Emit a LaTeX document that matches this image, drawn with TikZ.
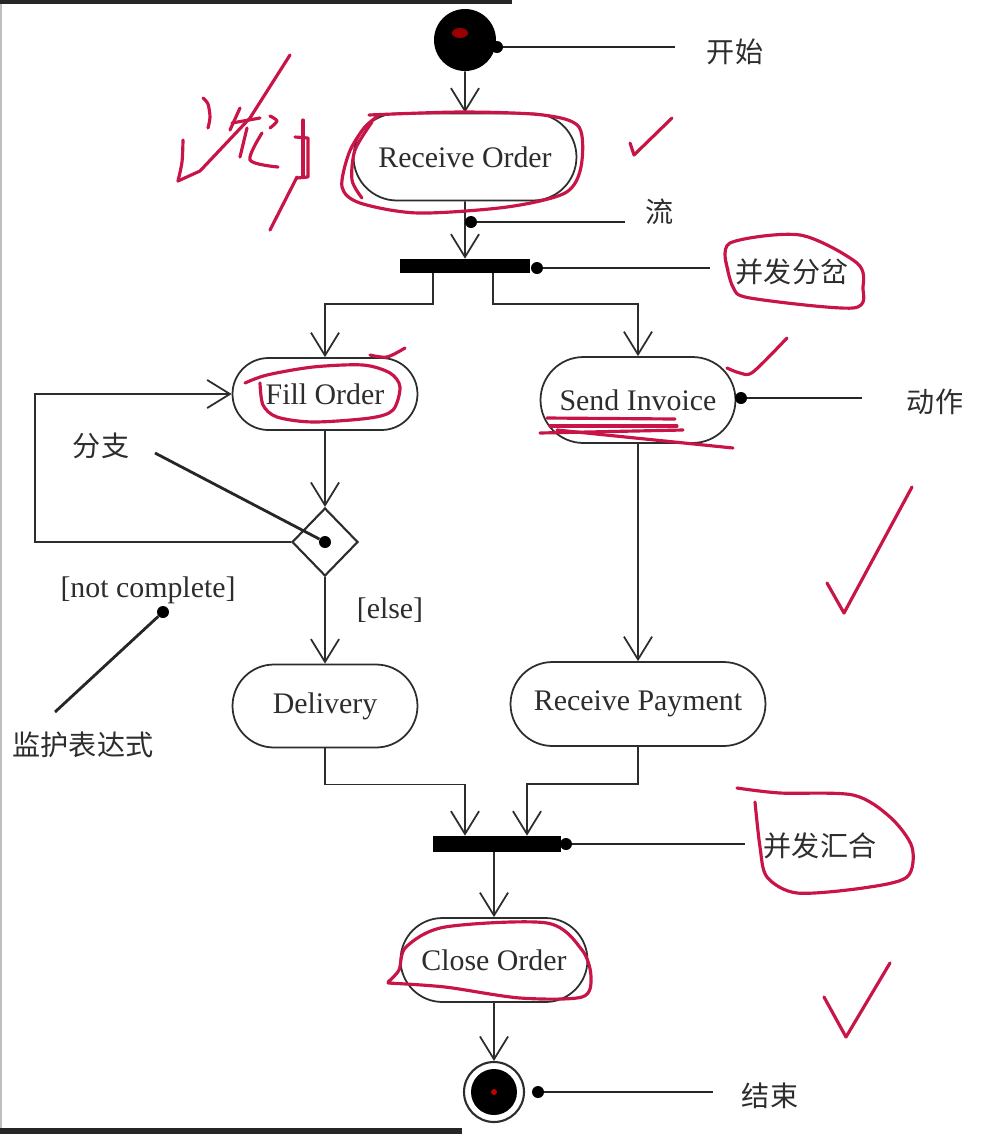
\documentclass[tikz,border=0pt]{standalone}
\usepackage{fontspec}
\setmainfont{Liberation Serif}
\newfontfamily\cjk{Noto Sans CJK SC}
\usetikzlibrary{arrows.meta,shapes.misc,shapes.geometric,calc}
\definecolor{ink}{RGB}{45,45,45}
\definecolor{penred}{RGB}{200,20,70}
\begin{document}
\begin{tikzpicture}[x=0.02cm,y=-0.02cm,
  act/.style={rounded rectangle, draw=ink, line width=1pt, fill=white, text=ink,
    font=\fontsize{17}{20}\selectfont, inner sep=0pt},
  flow/.style={draw=ink, line width=1pt, -{Straight Barb[length=13pt,width=16pt]}},
  annot/.style={draw=black!85, line width=1.6pt},
  notedot/.style={circle, fill=black, inner sep=0pt, minimum size=0.24cm},
  cnlbl/.style={font=\cjk\fontsize{16}{18}\selectfont, text=ink, inner sep=1pt},
  guard/.style={font=\fontsize{17}{20}\selectfont, text=ink, inner sep=1pt},
  barnode/.style={fill=black, draw=none, inner sep=0pt},
  redmark/.style={draw=penred, line width=1.8pt, line cap=round, line join=round}]
\useasboundingbox (0,0) rectangle (990,1134);
\fill[white] (0,0) rectangle (990,1134);
\fill[black!85] (0,0) rectangle (512,4);
\fill[black!85] (0,1128) rectangle (462,1134);
\draw[black!25, line width=0.8pt] (1,4) -- (1,1128);

% ---------- nodes ----------
\node[circle, fill=black, minimum size=1.24cm, inner sep=0pt] (start) at (465,40) {};
\fill[red!60!black] (460,33) ellipse (0.16cm and 0.1cm);
\node[act, minimum width=4.46cm, minimum height=1.74cm] (recv) at (465,157) {Receive Order};
\node[barnode, minimum width=2.6cm, minimum height=0.28cm] (fork) at (465,266) {};
\node[act, minimum width=3.7cm, minimum height=1.44cm] (fill) at (325,394) {Fill Order};
\node[act, minimum width=3.9cm, minimum height=1.72cm] (send) at (638,400) {Send Invoice};
\node[diamond, draw=ink, line width=1.2pt, fill=white, minimum width=1.32cm, minimum height=1.36cm, inner sep=0pt] (dia) at (325,542) {};
\node[act, minimum width=3.7cm, minimum height=1.66cm] (deliv) at (325,706) {Delivery};
\node[act, minimum width=5.1cm, minimum height=1.68cm] (pay) at (638,704) {Receive Payment};
\node[barnode, minimum width=2.58cm, minimum height=0.32cm] (join) at (497,844) {};
\node[act, minimum width=3.74cm, minimum height=1.68cm] (close) at (494,960) {Close Order};
\node[circle, draw=ink, line width=1.2pt, fill=white, minimum size=1.2cm, inner sep=0pt] (end) at (494,1092) {};
\fill[black] (end.center) circle (0.46cm);
\fill[red!75!black] (end.center) circle (0.06cm);

% ---------- flows ----------
\draw[flow] (start) -- (recv);
\draw[flow] (recv) -- (fork);
\draw[flow] ($(fork.south)+(-32,0)$) -- ++(0,31) -| (fill.north);
\draw[flow] ($(fork.south)+(28,0)$) -- ++(0,31) -| (send.north);
\draw[flow] (fill) -- (dia);
\coordinate (loopc) at (35,542);
\draw[flow] (dia.west) -- (loopc) |- (fill.west);
\draw[flow] (dia) -- (deliv);
\draw[flow] (send) -- (pay);
\draw[flow] (deliv.south) -- ++(0,36) -| ($(join.north)+(-32,0)$);
\draw[flow] (pay.south) -- ++(0,37) -| ($(join.north)+(30,0)$);
\draw[flow] (join.south -| close.north) -- (close.north);
\draw[flow] (close) -- (end);

% ---------- guards ----------
\node[guard] (gelse) at (390,610) {[else]};
\node[guard] (gnot) at (148,590) {[not complete]};

% ---------- annotations ----------
\node[notedot] (d1) at (497,47) {};
\coordinate (e1) at (675,47);
\node[cnlbl] (t1) at (735,52) {开始};
\draw[annot] (d1) -- (e1);

\node[notedot] (d2) at (471,222) {};
\coordinate (e2) at (625,222);
\node[cnlbl] (t2) at (660,212) {流};
\draw[annot] (d2) -- (e2);

\node[notedot] (d3) at (537,268) {};
\coordinate (e3) at (710,268);
\node[cnlbl] (t3) at (792,272) {并发分岔};
\draw[annot] (d3) -- (e3);

\node[notedot] (d4) at (741,398) {};
\coordinate (e4) at (862,398);
\node[cnlbl] (t4) at (935,402) {动作};
\draw[annot] (d4) -- (e4);

\node[notedot] (d5) at (325,542) {};
\node[cnlbl] (t5) at (101,446) {分支};
\coordinate (e5) at (155,453);
\draw[annot] (e5) -- (d5);

\node[notedot] (d6) at (163,612) {};
\coordinate (e6) at (55,712);
\node[cnlbl] (t6) at (83,745) {监护表达式};
\draw[annot] (d6) -- (e6);

\node[notedot] (d7) at (566,844) {};
\coordinate (e7) at (745,844);
\node[cnlbl] (t7) at (820,846) {并发汇合};
\draw[annot] (d7) -- (e7);

\node[notedot] (d8) at (538,1092) {};
\coordinate (e8) at (713,1092);
\node[cnlbl] (t8) at (770,1096) {结束};
\draw[annot] (d8) -- (e8);

% ---------- red handwriting ----------
% "流动"
\draw[redmark] plot[smooth] coordinates {(203,98) (208,104) (210,117) (208,128)};
\draw[redmark] plot[smooth] coordinates {(183,140) (182,162) (178,181)};
\draw[redmark] (178,181) -- (200,171) -- (250,118) -- (290,55);
\draw[redmark] (240,108) -- (230,130);
\draw[redmark] (232,123) -- (260,118);
\draw[redmark] (247,128) -- (240,157);
\draw[redmark] plot[smooth] coordinates {(270,116) (277,121) (270,128)};
\draw[redmark] plot[smooth] coordinates {(262,133) (250,160) (278,167)};
\draw[redmark] (303,120) -- (303,177);
\draw[redmark] (295,137) -- (308,138) -- (308,177) -- (297,178);
\draw[redmark] (297,177) -- (270,230);
% loop round Receive Order
\draw[redmark] plot[smooth] coordinates {(369,115) (462,112) (543,115) (579,127) (581,167) (565,193) (507,207) (418,213) (360,203) (342,187) (349,153) (364,128) (378,116)};
\draw[redmark] plot[smooth] coordinates {(372,122) (355,150) (352,180) (362,198)};
% ticks
\draw[redmark] (630,143) -- (634,155) -- (672,118);
\draw[redmark] plot[smooth] coordinates {(370,355) (387,357) (405,348)};
\draw[redmark] plot[smooth] coordinates {(727,368) (740,373) (753,372) (787,338)};
\draw[redmark] (827,583) -- (844,613) -- (912,487);
\draw[redmark] (824,997) -- (846,1037) -- (890,963);
% loop round 并发分岔
\draw[redmark] plot[smooth] coordinates {(728,270) (730,243) (800,235) (857,263) (863,287) (853,308) (750,298) (733,287) (726,262)};
% loop round Fill Order
\draw[redmark] plot[smooth] coordinates {(245,383) (267,375) (313,367) (363,365) (390,373) (400,387) (393,410) (370,418) (313,422) (277,417) (263,405) (260,383)};
% underlines Send Invoice
\draw[redmark] (547,418) -- (675,419);
\draw[redmark] (550,426) -- (677,426);
\draw[redmark] (540,433) -- (683,430);
\draw[redmark] (557,430) -- (733,448);
% loop round 并发汇合
\draw[redmark] plot[smooth] coordinates {(737,788) (780,793) (853,795) (890,817) (912,847) (907,877) (863,888) (797,893) (767,877) (760,847) (755,802)};
% loop round Close Order
\draw[redmark] plot[smooth] coordinates {(388,982) (399,970) (406,947) (445,927) (547,923) (582,950) (591,977) (582,997) (520,998) (445,987) (388,983)};
\end{tikzpicture}
\end{document}
